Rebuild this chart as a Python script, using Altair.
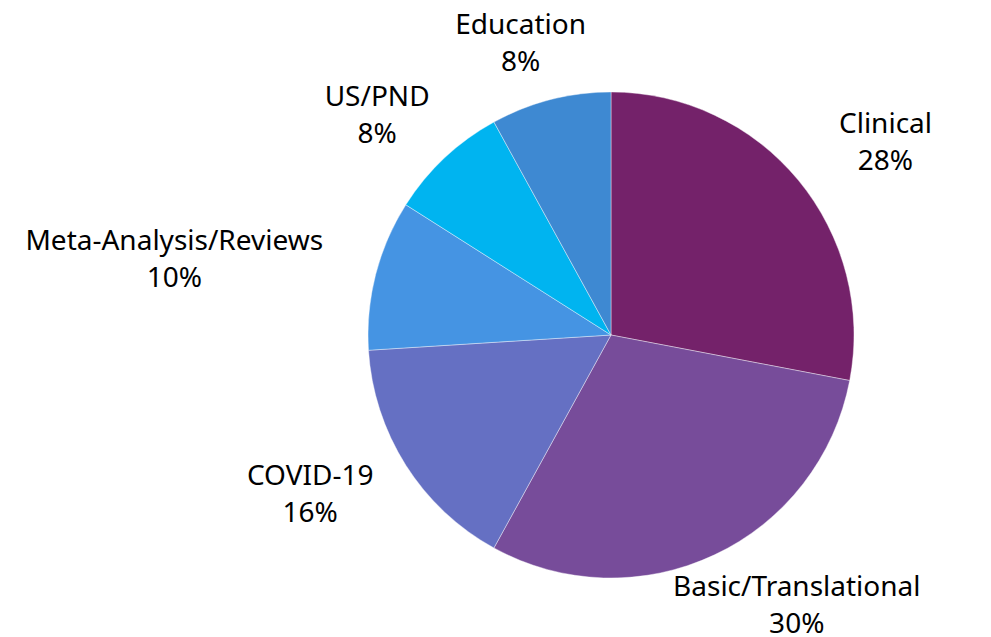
import altair as alt
import pandas as pd

categories = ["Clinical", "Basic/Translational", "COVID-19", "Meta-Analysis/Reviews", "US/PND", "Education"]
values = [28, 30, 16, 10, 8, 8]
colors = ["#74226A", "#774C9A", "#6570C3", "#4594E3", "#00B4F0", "#3E89D2"]

df = pd.DataFrame({
    "category": categories,
    "value": values,
    "order": list(range(len(categories))),
})

CX, CY, R = 603, 327, 243
FONT = "Noto Sans"
FS = 28
LH = 37
GAP = 20
PAD = 35

pie = alt.Chart(df).mark_arc(outerRadius=R, stroke="white", strokeWidth=0.4).encode(
    theta=alt.Theta("value:Q", stack=True, scale=alt.Scale(range=[0, 6.283185307])),
    order=alt.Order("order:Q"),
    color=alt.Color("category:N", scale=alt.Scale(domain=categories, range=colors), legend=None),
    x=alt.value(CX),
    y=alt.value(CY),
)

labels = alt.Chart(df).transform_window(
    cum="sum(value)", sort=[alt.SortField("order")], frame=[None, 0]
).transform_joinaggregate(
    total="sum(value)"
).transform_calculate(
    mid="2*PI*(datum.cum - datum.value/2)/datum.total",
    label="[datum.category, datum.value + '%']",
    halfw=f"length(datum.category)*{FS}*0.26 + {PAD}",
).transform_calculate(
    lx=f"{CX} + ({R}+{GAP})*sin(datum.mid) + datum.halfw*sin(datum.mid)",
    ly=f"{CY} - ({R}+{GAP})*cos(datum.mid) - {LH}*cos(datum.mid) - {LH}/2",
).mark_text(
    align="center", baseline="middle", font=FONT, fontSize=FS, lineHeight=LH, color="#000000"
).encode(
    x=alt.X("lx:Q", scale=None),
    y=alt.Y("ly:Q", scale=None),
    text="label:N",
)

chart = alt.layer(pie, labels).properties(
    width=975, height=629, padding=0,
    autosize=alt.AutoSizeParams(type="none"),
).configure_view(stroke=None)

chart.save("out.html", embed_options={"renderer": "svg", "actions": False})
